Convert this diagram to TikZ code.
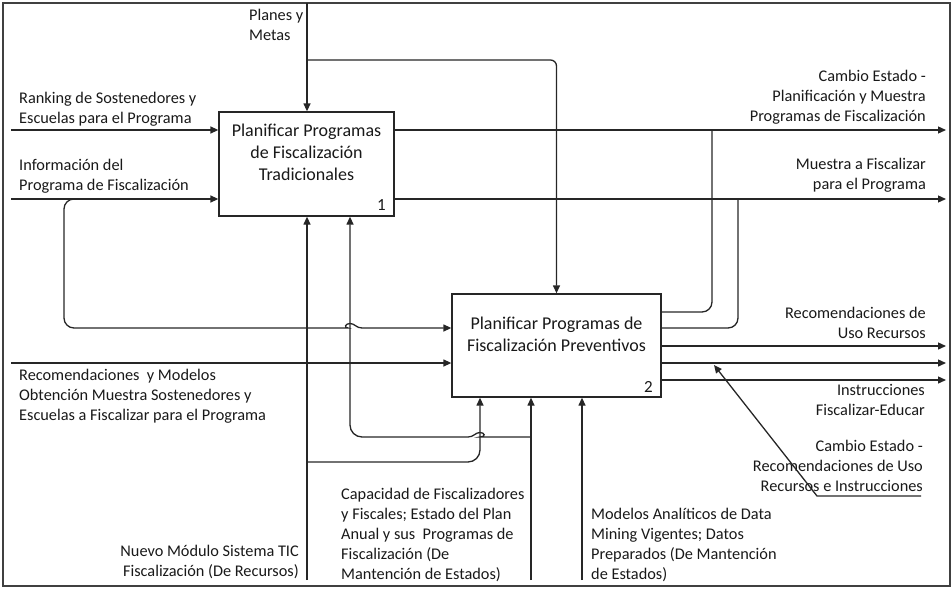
\documentclass[tikz,border=0pt]{standalone}
\usepackage{fontspec}
\setmainfont{Carlito}
\usetikzlibrary{arrows.meta}
\begin{document}
\begin{tikzpicture}[x=1pt,y=-1pt,
  line/.style={draw=black!85, line width=1.3pt},
  arr/.style={line, -{Triangle[length=8pt,width=7pt]}},
  lbl/.style={inner sep=0pt, yshift=-3pt, font=\fontsize{16.3}{20}\selectfont, text=black!90, execute at begin node=\strut},
  lblL/.style={lbl, anchor=north west, align=left},
  lblR/.style={lbl, anchor=north east, align=right},
  proc/.style={draw=black!85, line width=1.3pt, fill=white, inner sep=0pt},
  proctext/.style={inner sep=0pt, yshift=-3pt, anchor=north, align=center, text=black!90, font=\fontsize{18}{21.8}\selectfont, execute at begin node=\strut},
  num/.style={inner sep=0pt, anchor=base east, text=black!90, font=\fontsize{17}{20}\selectfont}
]
\useasboundingbox (0,0) rectangle (952,589);
% outer frame
\draw[line width=1.2pt, draw=black!75] (3,3) rectangle (950,586);

% activity boxes
\node[proc, minimum width=175pt, minimum height=104pt] (b1) at (306.5,164) {};
\node[proc, minimum width=209pt, minimum height=103pt] (b2) at (556.5,345.5) {};
\node[proctext] (b1t) at (306.5,120.7) {Planificar Programas\\de Fiscalización\\Tradicionales};
\node[proctext] (b2t) at (556.5,313.7) {Planificar Programas de\\Fiscalización Preventivos};
\node[num] (b1n) at (386,210) {1};
\node[num] (b2n) at (653,392) {2};

% labels
\node[lblL] (lPlanes) at (249,6) {Planes y\\Metas};
\node[lblL] (lRanking) at (19,89) {Ranking de Sostenedores y\\Escuelas para el Programa};
\node[lblL] (lInfo) at (19,156) {Información del\\Programa de Fiscalización};
\node[lblR] (lCambio1) at (926,67) {Cambio Estado -\\Planificación y Muestra\\Programas de Fiscalización};
\node[lblR] (lMuestra) at (926,155) {Muestra a Fiscalizar\\para el Programa};
\node[lblR] (lRecUso) at (926,304) {Recomendaciones de\\Uso Recursos};
\node[lblR] (lInstr) at (925,381) {Instrucciones\\Fiscalizar-Educar};
\node[lblR] (lCambio2) at (923,437) {Cambio Estado -\\Recomendaciones de Uso\\Recursos e Instrucciones};
\node[lblL] (lRecMod) at (19,366) {Recomendaciones\ \ y Modelos\\Obtención Muestra Sostenedores y\\Escuelas a Fiscalizar para el Programa};
\node[lblR] (lNuevo) at (299,542) {Nuevo Módulo Sistema TIC\\Fiscalización (De Recursos)};
\node[lblL] (lCapac) at (341,485) {Capacidad de Fiscalizadores\\y Fiscales; Estado del Plan\\Anual y sus\ \ Programas de\\Fiscalización (De\\Mantención de Estados)};
\node[lblL] (lModelos) at (591,505) {Modelos Analíticos de Data\\Mining Vigentes; Datos\\Preparados (De Mantención\\de Estados)};

% free ends and branch points
\coordinate (pmTop) at (307,3);
\coordinate (pmSplit) at (307,60);
\coordinate (in1) at (11,130);
\coordinate (in2) at (11,199);
\coordinate (in3) at (11,363);
\coordinate (out1) at (946,130);
\coordinate (out2) at (946,199);
\coordinate (out3) at (946,346);
\coordinate (out4) at (946,363);
\coordinate (out5) at (946,380);
\coordinate (j1) at (712,130);
\coordinate (m1) at (712,312);
\coordinate (j2) at (738,199);
\coordinate (m2) at (738,328);
\coordinate (lp) at (82,199);
\coordinate (lpc) at (64,328);
\coordinate (mA) at (307,580);
\coordinate (mAs) at (307,462);
\coordinate (hopB) at (480,437);
\coordinate (cB) at (531,580);
\coordinate (cBs) at (531,437);
\coordinate (cBc) at (350,437);
\coordinate (cC) at (582,580);
\coordinate (csA) at (921,496);
\coordinate (csB) at (817,496);
\coordinate (csC) at (714,365);

% controls from above
\draw[arr] (pmTop) -- (pmTop |- b1.north);
\draw[arr, rounded corners=6pt] (pmSplit) -| (b2.north);

% inputs
\draw[arr] (in1) -- (in1 -| b1.west);
\draw[arr] (in2) -- (in2 -| b1.west);
\draw[arr] (in3) -- (in3 -| b2.west);
\draw[arr, rounded corners=10pt] (lp) -| (lpc) -- (338,328) [sharp corners]
  .. controls (344,328) and (345,323.5) .. (350,323.5)
  .. controls (355,323.5) and (356,328) .. (362,328) -- (b2.west |- lpc);

% outputs
\draw[arr] (out1 -| b1.east) -- (out1);
\draw[arr] (out2 -| b1.east) -- (out2);
\draw[arr] (out3 -| b2.east) -- (out3);
\draw[arr] (out4 -| b2.east) -- (out4);
\draw[arr] (out5 -| b2.east) -- (out5);
\draw[line, rounded corners=10pt] (b2.east |- m1) -| (j1);
\draw[line, rounded corners=10pt] (b2.east |- m2) -| (j2);

% mechanisms and controls from below
\draw[arr] (mA) -- (mA |- b1.south);
\draw[arr, rounded corners=12pt] (mAs) -| (b2.south -| hopB);
\draw[arr] (cB) -- (cB |- b2.south);
\draw[arr, rounded corners=12pt] (cBs) -- (492,437) [sharp corners]
  .. controls (486,437) and (485,432.5) .. (480,432.5)
  .. controls (475,432.5) and (474,437) .. (468,437) [rounded corners=12pt]
  -- (cBc) -- (cBc |- b1.south);
\draw[arr] (cC) -- (cC |- b2.south);

% state change feedback
\draw[arr] (csA) -- (csB) -- (csC);
\end{tikzpicture}
\end{document}
